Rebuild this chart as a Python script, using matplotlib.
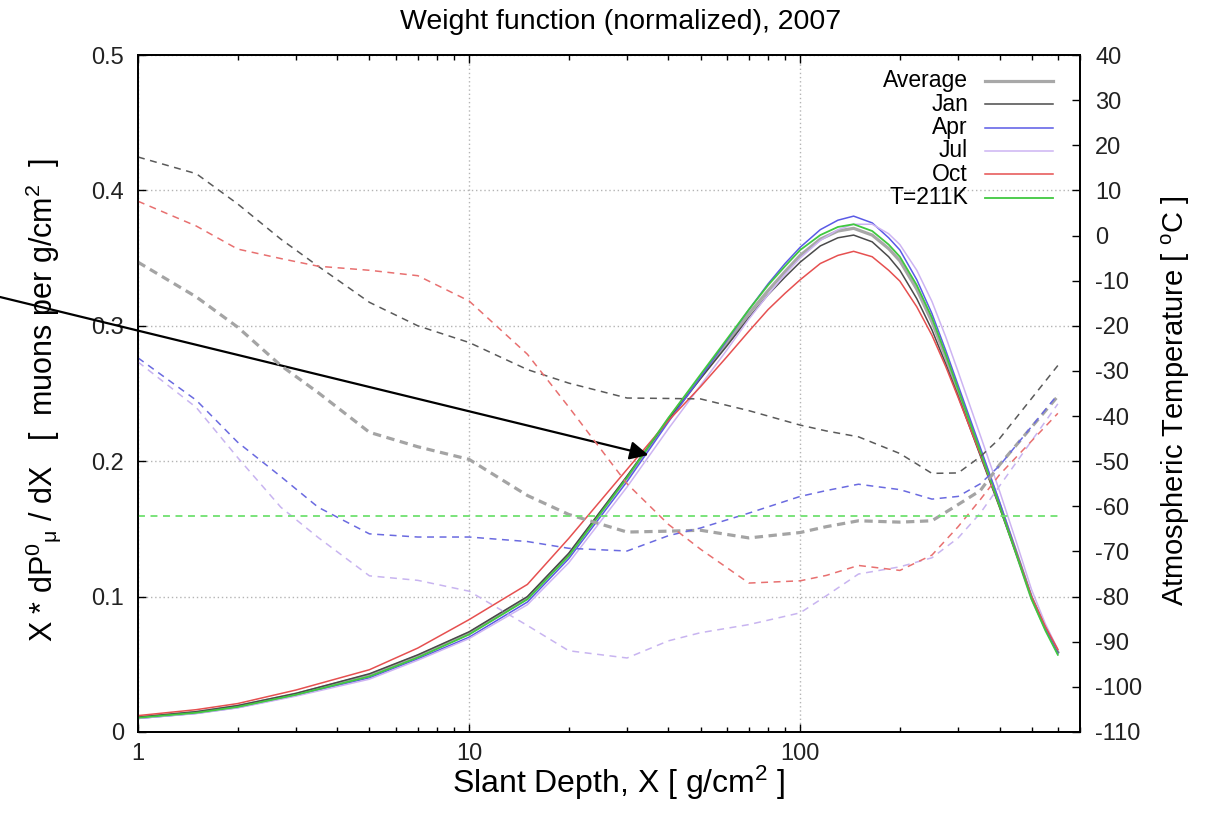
import numpy as np
import matplotlib
matplotlib.use("Agg")
import matplotlib.pyplot as plt
from matplotlib.ticker import FixedLocator, NullFormatter

plt.rcParams["font.family"] = ["Liberation Sans", "DejaVu Sans"]
plt.rcParams["mathtext.fontset"] = "custom"
plt.rcParams["mathtext.rm"] = "Liberation Sans"
plt.rcParams["mathtext.it"] = "Liberation Sans:italic"
plt.rcParams["mathtext.bf"] = "Liberation Sans:bold"
plt.rcParams["axes.unicode_minus"] = False
plt.rcParams["lines.scale_dashes"] = False

# slant depth grid for the weight functions [g/cm2]
depth = [1, 1.5, 2, 3, 5, 7, 10, 15, 20, 30, 40, 50, 60, 70, 80, 90, 100, 115,
         130, 145, 165, 185, 200, 225, 250, 275, 300, 350, 400, 450, 500, 550, 600]

w_avg = [0.0107, 0.0145, 0.019, 0.028, 0.042, 0.056, 0.073, 0.099, 0.131, 0.188,
         0.231, 0.262, 0.287, 0.309, 0.326, 0.340, 0.352, 0.364, 0.370, 0.372,
         0.367, 0.357, 0.348, 0.327, 0.303, 0.277, 0.252, 0.207, 0.168, 0.132,
         0.099, 0.077, 0.059]
w_jan = [0.0110, 0.015, 0.0195, 0.0285, 0.043, 0.057, 0.074, 0.100, 0.132, 0.189,
         0.231, 0.261, 0.285, 0.306, 0.323, 0.336, 0.347, 0.359, 0.365, 0.367,
         0.362, 0.351, 0.341, 0.320, 0.297, 0.272, 0.248, 0.204, 0.166, 0.131,
         0.099, 0.077, 0.059]
w_apr = [0.0100, 0.0138, 0.018, 0.027, 0.040, 0.054, 0.070, 0.096, 0.128, 0.185,
         0.229, 0.262, 0.289, 0.312, 0.331, 0.346, 0.358, 0.371, 0.378, 0.381,
         0.376, 0.365, 0.356, 0.334, 0.309, 0.282, 0.256, 0.210, 0.170, 0.133,
         0.100, 0.077, 0.058]
w_jul = [0.0100, 0.0136, 0.0178, 0.0265, 0.039, 0.053, 0.069, 0.094, 0.125, 0.181,
         0.224, 0.256, 0.282, 0.305, 0.323, 0.338, 0.350, 0.363, 0.371, 0.375,
         0.375, 0.368, 0.360, 0.341, 0.318, 0.292, 0.266, 0.219, 0.178, 0.140,
         0.105, 0.080, 0.061]
w_oct = [0.0121, 0.0165, 0.021, 0.031, 0.046, 0.062, 0.083, 0.109, 0.143, 0.194,
         0.230, 0.255, 0.277, 0.296, 0.312, 0.324, 0.334, 0.346, 0.352, 0.355,
         0.351, 0.341, 0.333, 0.314, 0.293, 0.270, 0.247, 0.205, 0.167, 0.132,
         0.100, 0.078, 0.061]
w_t211 = [0.0105, 0.0142, 0.0185, 0.0275, 0.041, 0.055, 0.072, 0.098, 0.130, 0.188,
          0.232, 0.264, 0.290, 0.312, 0.330, 0.344, 0.356, 0.367, 0.373, 0.375,
          0.370, 0.360, 0.351, 0.330, 0.306, 0.279, 0.253, 0.207, 0.167, 0.131,
          0.098, 0.075, 0.057]

# temperature profiles [C]
t_depth = [1, 1.5, 2, 2.7, 3.5, 5, 7, 10, 15, 20, 30, 40, 50, 70, 100, 120, 150,
           200, 250, 300, 350, 400, 600]
t_avg = [-5.9, -13.6, -20.3, -28.8, -34.8, -43.6, -46.8, -49.6, -57.6, -61.8, -65.7,
         -65.5, -65.3, -67.0, -65.8, -64.5, -63.2, -63.5, -63.2, -59.6, -56.5, -50.8,
         -35.6]
t_jan = [17.4, 13.7, 7.0, -0.8, -6.8, -14.8, -20.0, -23.7, -29.7, -32.7, -36.0, -36.1,
         -36.2, -38.8, -42.0, -43.3, -44.6, -48.3, -52.7, -52.6, -49.0, -45.0, -28.8]
t_apr = [-27.1, -36.5, -45.8, -53.4, -60.2, -66.1, -66.8, -66.8, -67.8, -69.3, -69.9,
         -66.5, -64.8, -61.5, -57.8, -56.5, -55.1, -56.3, -58.4, -57.8, -55.0, -51.0,
         -35.2]
t_jul = [-28.0, -38.1, -49.2, -60.2, -66.9, -75.4, -76.4, -78.8, -86.4, -92.0, -93.6,
         -89.8, -88.0, -86.2, -83.6, -79.8, -75.0, -73.4, -71.4, -67.0, -61.5, -55.5,
         -37.3]
t_oct = [7.6, 2.1, -3.0, -5.1, -6.8, -7.7, -8.9, -14.5, -26.3, -38.0, -55.0, -64.0,
         -69.5, -77.0, -76.5, -75.3, -73.1, -74.2, -70.8, -64.5, -58.5, -53.0, -39.4]
t211_depth = [1, 600]
t211_temp = [-62.15, -62.15]

labels = ["Average", "Jan", "Apr", "Jul", "Oct", "T=211K"]
colors = ["#a8a8a8", "#4a4a4a", "#5a5ae6", "#cdb4f2", "#e65050", "#40c840"]
dash_colors = ["#a4a4a4", "#5a5a5a", "#6a6ae0", "#c8b4f0", "#e87070", "#70e070"]
widths = [2.3, 1.1, 1.1, 1.1, 1.1, 1.3]
dash_pat = [(6, 4), (5, 4), (5, 4), (5, 4), (5, 4), (5, 4)]

weights = [w_avg, w_jan, w_apr, w_jul, w_oct, w_t211]
temps = [(t_depth, t_avg), (t_depth, t_jan), (t_depth, t_apr),
         (t_depth, t_jul), (t_depth, t_oct), (t211_depth, t211_temp)]

fig = plt.figure(figsize=(12.18, 8.15), dpi=100)
L, R, T, B = 138, 1080, 55, 732
ax = fig.add_axes([L / 1218, 1 - B / 815, (R - L) / 1218, (B - T) / 815])
ax2 = ax.twinx()

for w, c, lw in zip(weights, colors, widths):
    ax.plot(depth, w, color=c, lw=lw, zorder=3)

for (td, tt), c, lw, d in zip(temps, dash_colors, widths, dash_pat):
    ax2.plot(td, tt, color=c, lw=lw, dashes=d)

ax.set_xscale("log")
ax.set_xlim(1, 700)
ax.set_ylim(0, 0.5)
ax2.set_ylim(-110, 40)

ax.xaxis.set_major_locator(FixedLocator([1, 10, 100]))
ax.set_xticklabels(["1", "10", "100"])
minor = [m * d for d in (1, 10, 100) for m in range(2, 10) if m * d <= 700]
ax.xaxis.set_minor_locator(FixedLocator(minor))
ax.xaxis.set_minor_formatter(NullFormatter())
ax.set_yticks([0, 0.1, 0.2, 0.3, 0.4, 0.5])
ax.set_yticklabels(["0", "0.1", "0.2", "0.3", "0.4", "0.5"])
ax2.set_yticks(range(-110, 41, 10))

ax.tick_params(axis="x", which="both", direction="in", top=True, labelsize=17,
               pad=8, labelcolor="#222222")
ax.tick_params(axis="x", which="major", length=6, width=1)
ax.tick_params(axis="x", which="minor", length=3.5, width=1)
ax.tick_params(axis="y", direction="in", length=6, width=1, labelsize=17,
               pad=10, right=False, labelcolor="#222222")
ax2.tick_params(axis="y", direction="in", length=6, width=1, labelsize=17,
                pad=11, labelcolor="#222222")

ax.grid(True, which="major", color="#b4b4b4", linestyle=(0, (1, 2)), lw=1)
for s in list(ax.spines.values()) + list(ax2.spines.values()):
    s.set_linewidth(1.3)

ax.set_xlabel("Slant Depth, X [ g/cm$^2$ ]", fontsize=23)
ax.xaxis.set_label_coords((619 - L) / (R - L), (B - 764) / (B - T))
ax.set_ylabel("X * dP$^0$$_{\\rm μ}$ / dX   [  muons per g/cm$^2$  ]", fontsize=22)
ax.yaxis.set_label_coords((63 - L) / (R - L), 0.49)
ax2.set_ylabel("Atmospheric Temperature [ $^{\\rm o}$C ]", fontsize=21)
ax2.yaxis.set_label_coords((1160 - L) / (R - L), 0.49)

fig.text(621 / 1218, 1 - 22 / 815, "Weight function (normalized), 2007",
         ha="center", va="center", fontsize=20.5)

# legend drawn by hand: text right-aligned, sample line to the right
for i, (lab, c, lw) in enumerate(zip(labels, colors, widths)):
    y = 1 - (80.7 - T + i * 23.4) / (B - T)
    ax2.text((968 - L) / (R - L), y, lab, transform=ax2.transAxes, ha="right",
             va="center", fontsize=16.5)
    ax2.plot([(985 - L) / (R - L), (1053 - L) / (R - L)], [y, y], color=c, lw=lw,
             transform=ax2.transAxes)

ax.annotate("", xy=(34.8, 0.2046), xycoords="data", xytext=(0.0, 1 - 297 / 815),
            textcoords="figure fraction", annotation_clip=False,
            arrowprops=dict(arrowstyle="-|>", color="black", lw=1.6,
                            mutation_scale=28, shrinkA=0, shrinkB=0))

fig.savefig("out.png", dpi=100)
